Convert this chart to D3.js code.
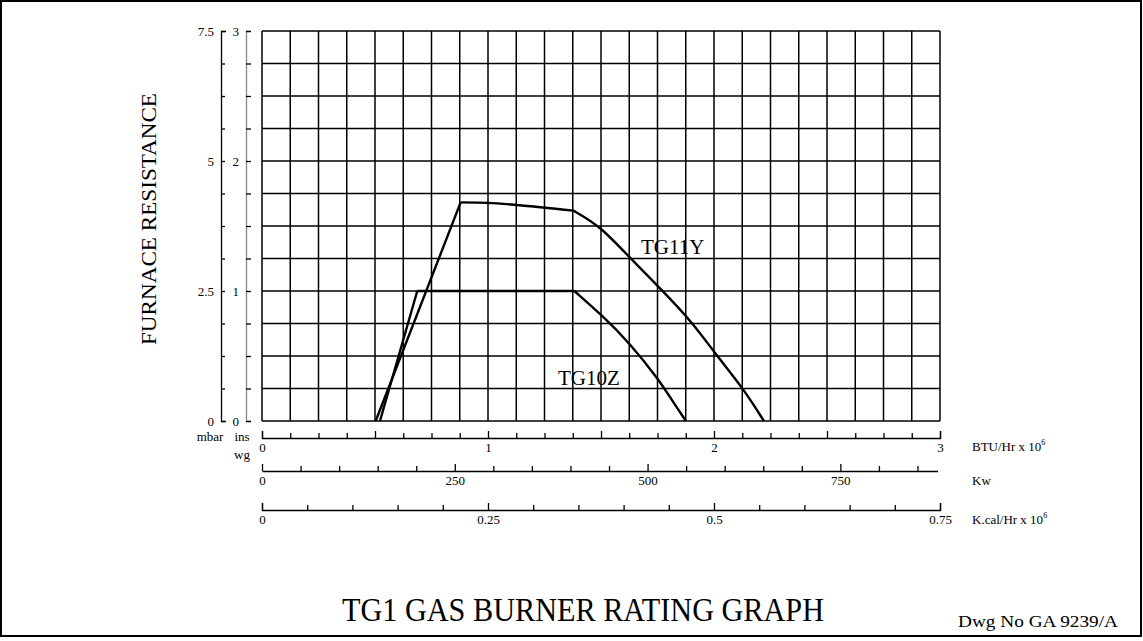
<!DOCTYPE html>
<html>
<head>
<meta charset="utf-8">
<script src="https://cdn.jsdelivr.net/npm/d3@7"></script>
<style>
  body { margin: 0; background: #fff; }
  svg { display: block; font-family: "Liberation Serif", "DejaVu Serif", serif; }
</style>
</head>
<body>
<svg id="chart" width="1143" height="641"></svg>
<script>
// ---------- DATA ----------
// Furnace resistance (ins wg) vs firing rate (BTU/Hr x 10^6)
const tg11yRise = [[0.503, 0], [0.879, 1.682]];
const tg11yTop  = [[0.879, 1.682], [1.0, 1.678], [1.127, 1.662], [1.378, 1.618]];
const tg11yFall = [[1.378, 1.618], [1.496, 1.50], [1.628, 1.254], [1.774, 1.0],
                   [1.907, 0.754], [2.013, 0.50], [2.128, 0.254], [2.221, 0]];
const tg10zRise = [[0.522, 0], [0.687, 1.0]];
const tg10zTop  = [[0.687, 1.0], [1.382, 1.0]];
const tg10zFall = [[1.382, 1.0], [1.503, 0.815], [1.628, 0.598], [1.757, 0.315],
                   [1.813, 0.162], [1.876, 0]];
const seriesLabels = [
  { name: "TG11Y", at: [1.677, 1.285] },
  { name: "TG10Z", at: [1.31, 0.277] }
];

const btuLabels   = [0, 1, 2, 3];
const kwLabels    = [0, 250, 500, 750];
const kcalLabels  = [0, 0.25, 0.5, 0.75];
const mbarLabels  = [0, 2.5, 5, 7.5];
const inswgLabels = [0, 1, 2, 3];

// ---------- LAYOUT ----------
const svg = d3.select("#chart");
const L = 262, R = 940, T = 31, B = 421;

const x = d3.scaleLinear().domain([0, 3]).range([L, R]);
const y = d3.scaleLinear().domain([0, 3]).range([B, T]);
const yMbar = d3.scaleLinear().domain([0, 7.5]).range([B, T]);
const xKwFull = d3.scaleLinear().domain([0, 3 * 293.07]).range([L, R]);
const xKw = xKwFull.copy().domain([0, 876]).range([L, xKwFull(876)]);
const xKcal = d3.scaleLinear().domain([0, 0.75]).range([L, R]);

// outer border
svg.append("rect").attr("x", 1).attr("y", 1).attr("width", 1140).attr("height", 635)
  .attr("fill", "none").attr("stroke", "#000").attr("stroke-width", 2);

// grid
const grid = svg.append("g").attr("stroke", "#000").attr("stroke-width", 1.5);
grid.selectAll(".v").data(d3.range(0, 3.0001, 0.125)).join("line")
  .attr("x1", d => x(d)).attr("x2", d => x(d)).attr("y1", T).attr("y2", B);
grid.selectAll(".h").data(d3.range(0, 3.0001, 0.25)).join("line")
  .attr("x1", L).attr("x2", R).attr("y1", d => y(d)).attr("y2", d => y(d));

function styleAxis(g, color) {
  g.attr("font-family", "Liberation Serif, serif").attr("font-size", 13);
  g.selectAll("path.domain").attr("stroke", color || "#000").attr("stroke-width", 1.3);
  g.selectAll(".tick line").attr("stroke", "#000").attr("stroke-width", 1.3);
  g.selectAll(".tick text").attr("fill", "#000");
}

// ---------- LEFT AXES ----------
const mbarG = svg.append("g").attr("transform", `translate(221,0)`)
  .call(d3.axisLeft(yMbar).tickValues(d3.range(0, 7.5001, 0.625)).tickSizeInner(-4).tickSizeOuter(-5)
        .tickPadding(7).tickFormat(d => mbarLabels.includes(+d.toFixed(3)) ? d3.format("")(+d.toFixed(3)) : ""));
styleAxis(mbarG);

const inswgG = svg.append("g").attr("transform", `translate(246,0)`)
  .call(d3.axisLeft(y).tickValues(d3.range(0, 3.0001, 0.25)).tickSizeInner(-5).tickSizeOuter(-5)
        .tickPadding(7).tickFormat(d => inswgLabels.includes(d) ? d : ""));
styleAxis(inswgG, "#888");

svg.append("text").attr("x", 210).attr("y", 441).attr("text-anchor", "middle")
  .attr("font-size", 13).text("mbar");
svg.append("text").attr("x", 242).attr("y", 441).attr("text-anchor", "middle")
  .attr("font-size", 13).text("ins");
svg.append("text").attr("x", 242).attr("y", 459).attr("text-anchor", "middle")
  .attr("font-size", 13).text("wg");

svg.append("text")
  .attr("transform", "translate(156,219) rotate(-90)")
  .attr("text-anchor", "middle").attr("font-size", 22)
  .attr("textLength", 252).attr("lengthAdjust", "spacingAndGlyphs")
  .text("FURNACE RESISTANCE");

// ---------- BOTTOM AXES ----------
function bottomAxis(scale, yPos, minorStep, majorStep, labels, domainMax, outer, fmt) {
  const minor = d3.range(0, domainMax + 1e-9, minorStep).filter(v => Math.abs(v / majorStep - Math.round(v / majorStep)) > 1e-6);
  const major = d3.range(0, domainMax + 1e-9, majorStep);
  const gMinor = svg.append("g").attr("transform", `translate(0,${yPos})`)
    .call(d3.axisBottom(scale).tickValues(minor).tickSizeInner(-5).tickSizeOuter(outer).tickFormat(""));
  styleAxis(gMinor);
  const gMajor = svg.append("g").attr("transform", `translate(0,${yPos})`)
    .call(d3.axisBottom(scale).tickValues(major).tickSizeInner(-7).tickSizeOuter(outer).tickPadding(5)
          .tickFormat(d => labels.some(l => Math.abs(l - d) < 1e-9) ? fmt(d) : ""));
  styleAxis(gMajor);
  gMajor.select("path.domain").remove();
  gMajor.selectAll(".tick text").attr("dy", "0.71em");
}

bottomAxis(x, 438, 0.125, 0.5, btuLabels, 3, -7, d => d3.format("")(d));
bottomAxis(xKw, 471, 50, 250, kwLabels, 850, 0, d => d3.format("")(d));
bottomAxis(xKcal, 510, 0.05, 0.25, kcalLabels, 0.75, -7, d => d3.format("")(d));

// unit labels
function unitLabel(yPos, base, sup) {
  const t = svg.append("text").attr("x", 972).attr("y", yPos).attr("font-size", 13);
  t.append("tspan").text(base);
  if (sup) t.append("tspan").attr("font-size", 8).attr("dy", -6).text(sup);
}
unitLabel(451, "BTU/Hr x 10", "6");
unitLabel(485, "Kw");
unitLabel(524, "K.cal/Hr x 10", "6");

// ---------- CURVES ----------
const lineLin = d3.line().x(d => x(d[0])).y(d => y(d[1])).curve(d3.curveLinear);
const lineTop = d3.line().x(d => x(d[0])).y(d => y(d[1])).curve(d3.curveMonotoneX);
const lineFall = d3.line().x(d => x(d[0])).y(d => y(d[1])).curve(d3.curveBasis);
const curves = svg.append("g").attr("fill", "none").attr("stroke", "#000")
  .attr("stroke-width", 2.4).attr("stroke-linejoin", "round");
[tg11yRise, tg10zRise, tg10zTop].forEach(s => curves.append("path").attr("d", lineLin(s)));
curves.append("path").attr("d", lineTop(tg11yTop));
[tg11yFall, tg10zFall].forEach(s => curves.append("path").attr("d", lineFall(s)));

svg.selectAll(".slabel").data(seriesLabels).join("text")
  .attr("x", d => x(d.at[0])).attr("y", d => y(d.at[1]))
  .attr("font-size", 21).attr("text-anchor", "start").text(d => d.name);

// ---------- TITLES ----------
svg.append("text").attr("x", 583).attr("y", 621).attr("text-anchor", "middle")
  .attr("font-size", 33).attr("textLength", 482).attr("lengthAdjust", "spacingAndGlyphs")
  .text("TG1 GAS BURNER RATING GRAPH");
svg.append("text").attr("x", 958).attr("y", 627)
  .attr("font-size", 16).attr("textLength", 160).attr("lengthAdjust", "spacingAndGlyphs")
  .text("Dwg No GA 9239/A");
</script>
</body>
</html>
